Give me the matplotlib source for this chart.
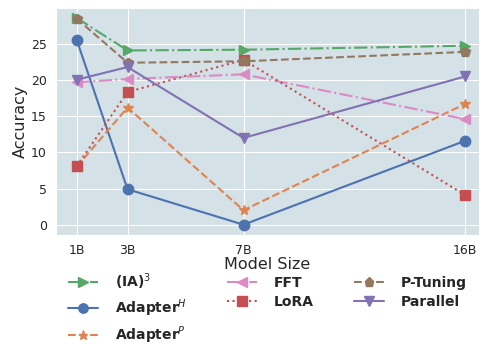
"""Accuracy vs model size for several fine-tuning methods."""
import matplotlib
matplotlib.use("Agg")
import matplotlib.pyplot as plt
import seaborn as sns

sizes = ["1B", "3B", "7B", "16B"]
size_pos = [0.22, 2.29, 7.0, 16.0]

ia3 = [28.6, 24.1, 24.2, 24.75]
adapter_h = [25.6, 4.9, 0.0, 11.6]
adapter_p = [8.0, 16.2, 2.0, 16.7]
fft = [19.7, 20.15, 20.8, 14.6]
lora = [8.05, 18.35, 22.8, 4.1]
p_tuning = [28.5, 22.4, 22.6, 23.9]
parallel = [20.05, 21.8, 12.0, 20.5]

sns.set_style("darkgrid", {"axes.facecolor": "#d4e1e7", "grid.color": "white"})
pal = sns.color_palette("deep")

fig = plt.figure(figsize=(4.82, 3.45), dpi=100)
ax = fig.add_axes([0.116, 0.319, 0.878, 0.658])

series = [
    ("(IA)$^3$", ia3, pal[2], ">", "-."),
    ("Adapter$^H$", adapter_h, pal[0], "o", "-"),
    ("Adapter$^P$", adapter_p, pal[1], "*", "--"),
    ("FFT", fft, pal[6], "<", "-."),
    ("LoRA", lora, pal[3], "s", ":"),
    ("P-Tuning", p_tuning, pal[5], "p", "--"),
    ("Parallel", parallel, pal[4], "v", "-"),
]
for label, vals, color, marker, ls in series:
    ax.plot(size_pos, vals, label=label, color=color, marker=marker, linestyle=ls,
            markersize=7.5, linewidth=1.5)

ax.set_xticks(size_pos, sizes)
ax.set_xlim(-0.62, 16.57)
ax.set_ylim(-1.42, 29.98)
ax.set_yticks([0, 5, 10, 15, 20, 25])
ax.tick_params(labelsize=9, pad=3)
ax.set_xlabel("Model Size", fontsize=11.5, labelpad=0)
ax.set_ylabel("Accuracy", fontsize=11.5, labelpad=2)

ax.legend(loc="upper center", bbox_to_anchor=(0.5, -0.105), ncol=3, frameon=False,
          prop={"weight": "bold", "size": 10}, handlelength=2.15, handletextpad=1.2,
          columnspacing=2.9, labelspacing=0.38, markerscale=0.9)

fig.savefig("out.png", dpi=100)
